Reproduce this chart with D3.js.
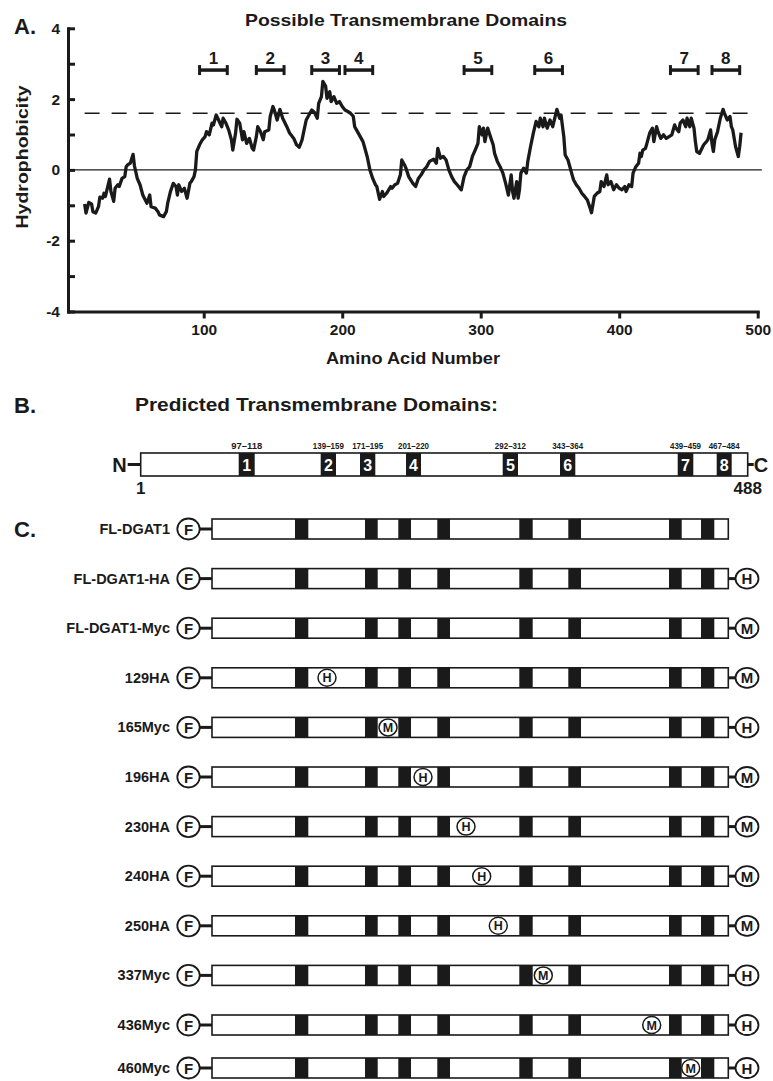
<!DOCTYPE html>
<html>
<head>
<meta charset="utf-8">
<script src="https://cdn.jsdelivr.net/npm/d3@7"></script>
<style>
  body { margin: 0; background: #fff; }
  svg text { font-family: "Liberation Sans", Arial, Helvetica, sans-serif; font-weight: bold; fill: #1a1a1a; }
</style>
</head>
<body>
<div id="fig"></div>
<script>
// hydrophobicity profile (residue number / score)
var hydroAA = [
  14,15,17,19,20,22,24,25,27,28,29,32,33,35,36,38,39,41,43,44,
  45,47,49,50,52,54,56,59,61,62,65,67,68,71,73,74,76,78,80,81,
  82,84,86,88,90,91,93,94,95,97,99,101,102,104,106,107,109,111,113,114,
  116,118,120,121,123,124,126,128,129,131,133,135,136,138,139,141,143,144,147,148,
  150,151,153,155,157,160,162,165,167,169,171,172,174,176,178,180,182,183,185,186,
  188,189,191,192,194,196,198,200,202,204,206,208,209,211,213,215,216,218,220,222,
  224,225,227,229,230,232,235,236,238,240,242,243,245,246,248,251,253,255,257,259,
  261,263,266,268,269,271,273,275,277,279,281,283,285,286,288,290,292,294,296,298,
  299,301,302,303,305,307,309,310,312,314,316,318,320,322,323,324,326,327,328,329,
  331,333,334,336,338,340,342,343,345,346,348,350,352,354,355,357,358,360,361,363,
  365,366,367,369,371,373,375,377,379,380,382,384,386,387,389,391,392,394,396,398,
  400,402,404,405,407,409,410,412,414,415,416,417,419,420,422,424,425,427,428,430,
  432,434,436,438,440,441,443,444,446,448,449,451,452,454,455,456,458,461,463,464,
  466,467,468,469,471,473,475,476,478,480,481,482,484,486,487,488
];
var hydroVal = [
  -0.96,-1.22,-0.92,-0.96,-1.18,-1.22,-1.04,-0.77,-0.80,-0.66,-0.75,-0.26,-0.61,-0.89,-0.52,-0.42,-0.47,-0.24,-0.19,0.09,
  0.14,0.19,0.44,0.11,-0.24,-0.42,-0.71,-0.94,-0.71,-1.04,-1.08,-1.18,-1.27,-1.32,-1.18,-0.94,-0.61,-0.38,-0.47,-0.71,
  -0.42,-0.61,-0.52,-0.80,-0.38,-0.33,-0.19,0.00,0.52,0.71,0.85,0.94,1.08,0.99,1.32,1.27,1.55,1.39,1.22,1.46,
  1.32,1.13,0.85,0.56,1.04,1.43,1.32,0.85,1.08,0.75,0.89,0.61,0.56,0.94,1.22,1.08,0.85,1.08,1.13,1.51,
  1.79,1.69,1.41,1.71,1.46,1.22,1.04,0.89,0.71,0.64,0.85,1.04,1.41,1.55,1.69,1.62,1.46,1.88,2.07,2.50,
  2.37,2.02,2.21,1.93,2.07,1.88,1.93,1.79,1.69,1.65,1.60,1.51,1.22,1.08,0.94,0.80,0.66,0.38,0.00,-0.24,
  -0.42,-0.47,-0.83,-0.61,-0.75,-0.66,-0.47,-0.52,-0.42,-0.38,-0.14,0.28,0.14,0.05,-0.19,-0.38,-0.47,-0.24,-0.14,0.00,
  0.09,0.24,0.30,0.19,0.61,0.33,0.38,0.28,0.00,-0.19,-0.33,-0.42,-0.52,-0.56,-0.19,0.00,0.09,0.38,0.56,0.75,
  1.22,0.99,1.18,0.80,1.18,0.94,0.71,0.47,0.24,0.09,-0.09,-0.38,-0.71,-0.14,-0.61,-0.80,-0.33,-0.80,-0.56,-0.09,
  0.05,-0.09,0.24,0.66,1.04,1.37,1.22,1.46,1.22,1.46,1.18,1.41,1.22,1.55,1.71,1.46,1.55,0.94,0.42,0.28,
  0.00,-0.14,-0.28,-0.42,-0.52,-0.66,-0.75,-0.85,-1.08,-1.21,-0.75,-0.66,-0.61,-0.33,-0.47,-0.14,-0.42,-0.33,-0.56,-0.42,
  -0.52,-0.56,-0.47,-0.61,-0.42,-0.47,-0.09,0.09,0.19,0.47,0.38,0.56,0.61,0.75,1.04,1.18,0.80,1.22,1.08,0.89,
  0.99,0.89,0.94,0.99,1.27,1.18,1.08,1.32,1.41,1.22,1.46,1.22,1.46,1.18,0.80,0.52,0.47,0.71,0.80,0.85,
  1.13,0.75,0.52,0.85,1.08,1.46,1.71,1.60,1.41,1.51,1.22,1.13,0.66,0.38,0.66,1.05
];

var threshold = 1.6;
var yTicks = [-4, -3, -2, -1, 0, 1, 2, 3, 4];
var xTicks = [100, 200, 300, 400, 500];

// the eight predicted transmembrane domains
var tmNames = ["1", "2", "3", "4", "5", "6", "7", "8"];
var tmStart = [97, 139, 171, 201, 292, 343, 439, 467];
var tmEnd = [118, 159, 195, 220, 312, 364, 459, 484];
// the brackets as drawn over the profile in panel A
var bracketStart = [97, 138, 178, 202, 288, 339, 437, 467];
var bracketEnd = [117, 158, 198, 222, 308, 359, 457, 487];
var proteinLength = 488;

// panel C constructs
var constructs = ["FL-DGAT1", "FL-DGAT1-HA", "FL-DGAT1-Myc", "129HA", "165Myc", "196HA",
                  "230HA", "240HA", "250HA", "337Myc", "436Myc", "460Myc"];
var nTag = ["F", "F", "F", "F", "F", "F", "F", "F", "F", "F", "F", "F"];
var cTag = ["", "H", "M", "M", "H", "M", "M", "M", "M", "H", "H", "H"];
var innerTag = ["", "", "", "H", "M", "H", "H", "H", "H", "M", "M", "M"];
var innerSite = [null, null, null, 129, 165, 196, 230, 240, 250, 337, 436, 460];

var W = 773, H = 1081;
var ink = "#1a1a1a";

var svg = d3.select("#fig").append("svg")
    .attr("width", W)
    .attr("height", H);

// ================= A. hydrophobicity plot =================
var x = d3.scaleLinear().domain([2, 500]).range([68, 757.7]);
var y = d3.scaleLinear().domain([-4, 4]).range([311.5, 28.3]);

var gA = svg.append("g");

gA.append("text").attr("x", 14).attr("y", 34).attr("font-size", 22).text("A.");
gA.append("text").attr("x", 406).attr("y", 26).attr("font-size", 17)
    .attr("text-anchor", "middle").attr("textLength", 322).attr("lengthAdjust", "spacingAndGlyphs")
    .text("Possible Transmembrane Domains");

// zero line and threshold
gA.append("line")
    .attr("x1", x(2)).attr("x2", x(503)).attr("y1", y(0)).attr("y2", y(0))
    .attr("stroke", ink).attr("stroke-width", 1.3);
gA.append("line")
    .attr("x1", x(14)).attr("x2", x(495)).attr("y1", y(threshold)).attr("y2", y(threshold))
    .attr("stroke", ink).attr("stroke-width", 1.4).attr("stroke-dasharray", "15,12");

var yAxis = gA.append("g")
    .attr("transform", "translate(" + x(2) + ",0)")
    .call(d3.axisLeft(y).tickValues(yTicks).tickSizeInner(-7).tickSizeOuter(0).tickPadding(8)
      .tickFormat(function(d) { return d % 2 === 0 ? String(d) : ""; }));
var xAxis = gA.append("g")
    .attr("transform", "translate(0," + y(-4) + ")")
    .call(d3.axisBottom(x).tickValues(xTicks).tickSizeInner(7).tickSizeOuter(0).tickPadding(5));

[yAxis, xAxis].forEach(function(ax) {
  ax.attr("font-family", null);
  ax.selectAll("path, line").attr("stroke", ink).attr("stroke-width", 3);
  ax.select(".domain").attr("stroke-linecap", "square");
  ax.selectAll("text").attr("fill", ink).style("font-size", "15.5px");
});

gA.append("text").attr("x", 413).attr("y", 364).attr("font-size", 17)
    .attr("text-anchor", "middle").attr("textLength", 174).attr("lengthAdjust", "spacingAndGlyphs")
    .text("Amino Acid Number");
gA.append("text").attr("transform", "translate(28,157) rotate(-90)").attr("font-size", 17)
    .attr("text-anchor", "middle").attr("textLength", 143).attr("lengthAdjust", "spacingAndGlyphs")
    .text("Hydrophobicity");

// the profile
var line = d3.line()
    .x(function(i) { return x(hydroAA[i]); })
    .y(function(i) { return y(hydroVal[i]); });
gA.append("path")
    .datum(d3.range(hydroAA.length))
    .attr("d", line)
    .attr("fill", "none").attr("stroke", ink).attr("stroke-width", 3.3)
    .attr("stroke-linejoin", "round");

// domain brackets
var bracketLevel = 2.82;
var br = gA.selectAll(".bracket").data(tmNames).enter().append("g").attr("class", "bracket");
br.append("line")
    .attr("x1", function(d, i) { return x(bracketStart[i]); })
    .attr("x2", function(d, i) { return x(bracketEnd[i]); })
    .attr("y1", y(bracketLevel)).attr("y2", y(bracketLevel))
    .attr("stroke", ink).attr("stroke-width", 3.5);
[bracketStart, bracketEnd].forEach(function(arr) {
  br.append("line")
      .attr("x1", function(d, i) { return x(arr[i]); })
      .attr("x2", function(d, i) { return x(arr[i]); })
      .attr("y1", y(bracketLevel) - 5).attr("y2", y(bracketLevel) + 5)
      .attr("stroke", ink).attr("stroke-width", 3);
});
br.append("text")
    .attr("x", function(d, i) { return x((bracketStart[i] + bracketEnd[i]) / 2); })
    .attr("y", y(bracketLevel) - 6)
    .attr("text-anchor", "middle").attr("font-size", 17)
    .text(function(d) { return d; });

// ================= B. domain map =================
// schematic (not to scale) placement of residues along the bar
var xb = d3.scaleLinear()
    .domain([1, 97, 118, 139, 159, 171, 195, 201, 220, 292, 312, 343, 364, 439, 459, 467, 484, 488])
    .range([140.7, 238.7, 254.7, 320.7, 336, 360, 375.3, 406, 421, 502.7, 518, 560, 575.3, 677.7, 693.3, 716.7, 731.7, 747.7]);
var bTop = 453, bH = 23;

var gB = svg.append("g");
gB.append("text").attr("x", 14).attr("y", 413).attr("font-size", 22).text("B.");
gB.append("text").attr("x", 135).attr("y", 411).attr("font-size", 19)
    .attr("textLength", 363).attr("lengthAdjust", "spacingAndGlyphs")
    .text("Predicted Transmembrane Domains:");

gB.append("rect")
    .attr("x", xb(1)).attr("y", bTop).attr("width", xb(proteinLength) - xb(1)).attr("height", bH)
    .attr("fill", "#fff").attr("stroke", ink).attr("stroke-width", 1.6);
gB.selectAll(".tmb").data(tmNames).enter().append("rect")
    .attr("x", function(d, i) { return xb(tmStart[i]); })
    .attr("width", function(d, i) { return xb(tmEnd[i]) - xb(tmStart[i]); })
    .attr("y", bTop).attr("height", bH).attr("fill", ink);
gB.selectAll(".tmn").data(tmNames).enter().append("text")
    .attr("x", function(d, i) { return (xb(tmStart[i]) + xb(tmEnd[i])) / 2; })
    .attr("y", bTop + bH / 2 + 6)
    .attr("text-anchor", "middle").attr("font-size", 16).style("fill", "#fff")
    .text(function(d) { return d; });
gB.selectAll(".tmr").data(tmNames).enter().append("text")
    .attr("x", function(d, i) { return (xb(tmStart[i]) + xb(tmEnd[i])) / 2; })
    .attr("y", bTop - 4)
    .attr("text-anchor", "middle").attr("font-size", 9.5)
    .attr("textLength", 31).attr("lengthAdjust", "spacingAndGlyphs")
    .text(function(d, i) { return tmStart[i] + "\u2013" + tmEnd[i]; });

gB.append("line").attr("x1", xb(1) - 13).attr("x2", xb(1)).attr("y1", bTop + bH / 2).attr("y2", bTop + bH / 2)
    .attr("stroke", ink).attr("stroke-width", 3);
gB.append("line").attr("x1", xb(proteinLength)).attr("x2", xb(proteinLength) + 6).attr("y1", bTop + bH / 2).attr("y2", bTop + bH / 2)
    .attr("stroke", ink).attr("stroke-width", 3);
gB.append("text").attr("x", xb(1) - 14).attr("y", bTop + bH / 2 + 7).attr("text-anchor", "end").attr("font-size", 20).text("N");
gB.append("text").attr("x", xb(proteinLength) + 6).attr("y", bTop + bH / 2 + 7).attr("font-size", 20).text("C");
gB.append("text").attr("x", xb(1)).attr("y", 494).attr("text-anchor", "middle").attr("font-size", 17).text("1");
gB.append("text").attr("x", xb(proteinLength)).attr("y", 494).attr("text-anchor", "middle").attr("font-size", 17).text(String(proteinLength));

// ================= C. constructs =================
// schematic residue placement for the construct bars, including tag sites
var xc = d3.scaleLinear()
    .domain([1, 97, 118, 129, 139, 159, 165, 171, 195, 196, 201, 220, 230, 240, 250, 292, 312, 337, 343, 364, 436, 439, 459, 460, 467, 484, 488])
    .range([212, 295, 308.3, 327, 365, 377.7, 388, 398.3, 411, 423, 437.3, 450, 466, 481.7, 498.3, 519.3, 532.7, 543.3, 568.3, 581, 651.7, 669, 681.7, 690.7, 701, 714.3, 728.3]);
var row = d3.scaleLinear().domain([0, 10, 11]).range([529, 1025, 1068]);
var cH = 20;

var gC = svg.append("g");
gC.append("text").attr("x", 14).attr("y", 537).attr("font-size", 22).text("C.");

var rows = gC.selectAll(".row").data(constructs).enter().append("g")
    .attr("class", "row")
    .attr("transform", function(d, i) { return "translate(0," + row(i) + ")"; });

rows.append("text")
    .attr("x", 170).attr("y", 5)
    .attr("text-anchor", "end").attr("font-size", 14.5)
    .text(function(d) { return d; });

// N-terminal tag
rows.append("line").attr("x1", 199).attr("x2", xc(1)).attr("y1", 0).attr("y2", 0)
    .attr("stroke", ink).attr("stroke-width", 3);
rows.append("ellipse").attr("cx", 188.5).attr("cy", 0).attr("rx", 11.2).attr("ry", 10.5)
    .attr("fill", "#fff").attr("stroke", ink).attr("stroke-width", 1.8);
rows.append("text").attr("x", 188.5).attr("y", 5.5).attr("text-anchor", "middle").attr("font-size", 15)
    .text(function(d, i) { return nTag[i]; });

rows.append("rect")
    .attr("x", xc(1)).attr("y", -cH / 2).attr("width", xc(proteinLength) - xc(1)).attr("height", cH)
    .attr("fill", "#fff").attr("stroke", ink).attr("stroke-width", 1.6);
rows.selectAll(".tmc").data(tmNames).enter().append("rect")
    .attr("x", function(d, i) { return xc(tmStart[i]); })
    .attr("width", function(d, i) { return xc(tmEnd[i]) - xc(tmStart[i]); })
    .attr("y", -cH / 2).attr("height", cH).attr("fill", ink);

// internal epitope tag
var inner = rows.filter(function(d, i) { return innerSite[i] !== null; });
inner.append("ellipse")
    .attr("cx", function(d) { return xc(innerSite[constructs.indexOf(d)]); })
    .attr("cy", 0).attr("rx", 9).attr("ry", 8.5)
    .attr("fill", "#fff").attr("stroke", ink).attr("stroke-width", 1.5);
inner.append("text")
    .attr("x", function(d) { return xc(innerSite[constructs.indexOf(d)]); })
    .attr("y", 4.5).attr("text-anchor", "middle").attr("font-size", 12.5)
    .text(function(d) { return innerTag[constructs.indexOf(d)]; });

// C-terminal tag
var tail = rows.filter(function(d, i) { return cTag[i] !== ""; });
tail.append("line").attr("x1", xc(proteinLength)).attr("x2", 736).attr("y1", 0).attr("y2", 0)
    .attr("stroke", ink).attr("stroke-width", 3);
tail.append("ellipse").attr("cx", 747).attr("cy", 0).attr("rx", 11.5).attr("ry", 10)
    .attr("fill", "#fff").attr("stroke", ink).attr("stroke-width", 1.8);
tail.append("text").attr("x", 747).attr("y", 5.5).attr("text-anchor", "middle").attr("font-size", 15)
    .text(function(d) { return cTag[constructs.indexOf(d)]; });
</script>
</body>
</html>
